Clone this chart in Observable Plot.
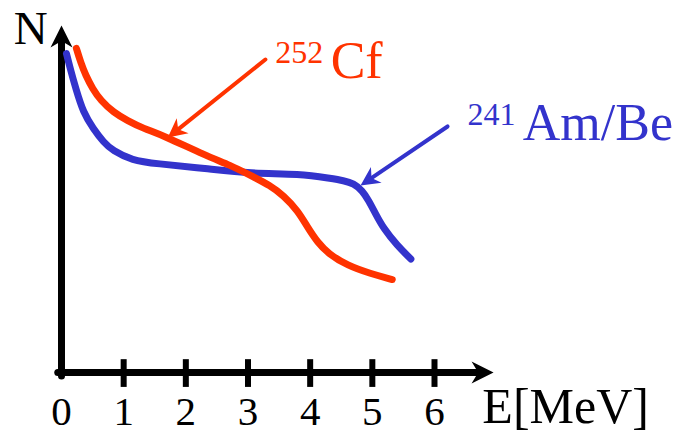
<!DOCTYPE html>
<html>
<head>
<meta charset="utf-8">
<script src="https://cdn.jsdelivr.net/npm/d3@7"></script>
<script src="https://cdn.jsdelivr.net/npm/@observablehq/plot@0.6"></script>
<style>
body{margin:0;background:#fff}
#chart svg{display:block}
</style>
</head>
<body>
<div id="chart"></div>
<script>
// ---- data ----
const energyCf = [0.24, 0.31, 0.39, 0.50, 0.63, 0.84, 1.06, 1.32, 1.64, 2.32, 2.72, 3.04, 3.36, 3.57, 3.80, 3.96, 4.12, 4.29, 4.60, 4.97, 5.32];
const countCf  = [9.34, 8.93, 8.56, 8.18, 7.84, 7.49, 7.26, 7.03, 6.83, 6.25, 5.97, 5.68, 5.39, 5.10, 4.67, 4.18, 3.75, 3.43, 3.08, 2.85, 2.68];
const energyAm = [0.08, 0.14, 0.23, 0.35, 0.51, 0.68, 0.82, 1.14, 1.51, 2.32, 3.04, 3.84, 4.33, 4.54, 4.70, 4.84, 4.94, 5.05, 5.18, 5.40, 5.62];
const countAm  = [9.19, 8.76, 8.18, 7.49, 7.03, 6.63, 6.40, 6.11, 6.02, 5.88, 5.73, 5.73, 5.59, 5.53, 5.45, 5.24, 4.96, 4.58, 4.15, 3.66, 3.27];
const tickValues = [0, 1, 2, 3, 4, 5, 6];
const tickLabels = ["0", "1", "2", "3", "4", "5", "6"];
const seriesMass = ["252", "241"];
const seriesName = ["Cf", "Am/Be"];
const xTitle = "E[MeV]";
const yTitle = "N";

// ---- layout / style ----
const COLORS = ["#ff3300", "#3333cc"];
const FONT = "Liberation Serif";
const xOpt = {domain: [0, 6], range: [61, 434]};
const yOpt = {domain: [0, 10], range: [372, 25]};
const sx = Plot.scale({x: xOpt});
const sy = Plot.scale({y: yOpt});
const angleOf = (a) =>
  Math.atan2(sx.apply(a.x2) - sx.apply(a.x1), -(sy.apply(a.y2) - sy.apply(a.y1))) * 180 / Math.PI;

const cf = energyCf.map((e, i) => ({e, n: countCf[i]}));
const am = energyAm.map((e, i) => ({e, n: countAm[i]}));

const axes = [
  {x1: 0, y1: -0.1, x2: 0, y2: 10},
  {x1: -0.06, y1: 0, x2: 6.95, y2: 0}
];
const pointers = [
  {x1: 3.28, y1: 9.02, x2: 1.71, y2: 6.77, color: COLORS[0]},
  {x1: 6.21, y1: 7.09, x2: 4.81, y2: 5.39, color: COLORS[1]}
];
const massPos = [{x: 3.44, y: 8.93}, {x: 6.53, y: 7.12}];
const namePos = [{x: 4.33, y: 8.50}, {x: 7.42, y: 6.69}];

const arrowHead = {
  draw(context, size) {
    const L = Math.sqrt(size / Math.PI);
    const W = L * 0.5, notch = L * 0.3;
    context.moveTo(0, 0);
    context.lineTo(W, L);
    context.lineTo(0, L - notch);
    context.lineTo(-W, L);
    context.closePath();
  }
};

const axisHeads = axes.map(a => ({x: a.x2, y: a.y2, angle: angleOf(a)}));
const pointerHeads = pointers.map(a => ({x: a.x2, y: a.y2, angle: angleOf(a), color: a.color}));

const plot = Plot.plot({
  width: 676,
  height: 433,
  marginTop: 0, marginRight: 0, marginBottom: 0, marginLeft: 0,
  x: {...xOpt, axis: null},
  y: {...yOpt, axis: null},
  color: {type: "identity"},
  style: {background: "#fff", overflow: "visible", fontFamily: FONT},
  marks: [
    Plot.arrow(axes, {x1: "x1", y1: "y1", x2: "x2", y2: "y2", stroke: "black", strokeWidth: 7, headLength: 0, insetEnd: 12}),
    Plot.dot(axisHeads, {x: "x", y: "y", rotate: "angle", r: 22, symbol: arrowHead, fill: "black", stroke: "none"}),
    Plot.ruleX(tickValues.slice(1), {x: d => d, y1: -0.43, y2: 0.37, stroke: "black", strokeWidth: 6}),
    Plot.text(tickValues, {x: d => d, y: 0, dy: 52, text: (d, i) => tickLabels[i], lineAnchor: "bottom", fontSize: 41, fontFamily: FONT, fill: "black"}),
    Plot.text([xTitle], {x: 6.77, y: 0, dy: 50, text: d => d, textAnchor: "start", lineAnchor: "bottom", fontSize: 50, fontFamily: FONT, fill: "black"}),
    Plot.text([yTitle], {x: -0.22, y: 9.48, text: d => d, textAnchor: "end", lineAnchor: "bottom", fontSize: 47, fontFamily: FONT, fill: "black"}),
    Plot.line(am, {x: "e", y: "n", stroke: COLORS[1], strokeWidth: 7, curve: "basis"}),
    Plot.line(cf, {x: "e", y: "n", stroke: COLORS[0], strokeWidth: 7, curve: "basis"}),
    Plot.arrow(pointers, {x1: "x1", y1: "y1", x2: "x2", y2: "y2", stroke: "color", strokeWidth: 4, headLength: 0, insetEnd: 10}),
    Plot.dot(pointerHeads, {x: "x", y: "y", rotate: "angle", r: 19, symbol: arrowHead, fill: "color", stroke: "none"}),
    Plot.text(seriesMass, {x: (d, i) => massPos[i].x, y: (d, i) => massPos[i].y, text: d => d, fill: (d, i) => COLORS[i], textAnchor: "start", lineAnchor: "bottom", fontSize: 32, fontFamily: FONT}),
    Plot.text(seriesName, {x: (d, i) => namePos[i].x, y: (d, i) => namePos[i].y, text: d => d, fill: (d, i) => COLORS[i], textAnchor: "start", lineAnchor: "bottom", fontSize: 52, fontFamily: FONT})
  ]
});
document.getElementById("chart").appendChild(plot);
</script>
</body>
</html>
